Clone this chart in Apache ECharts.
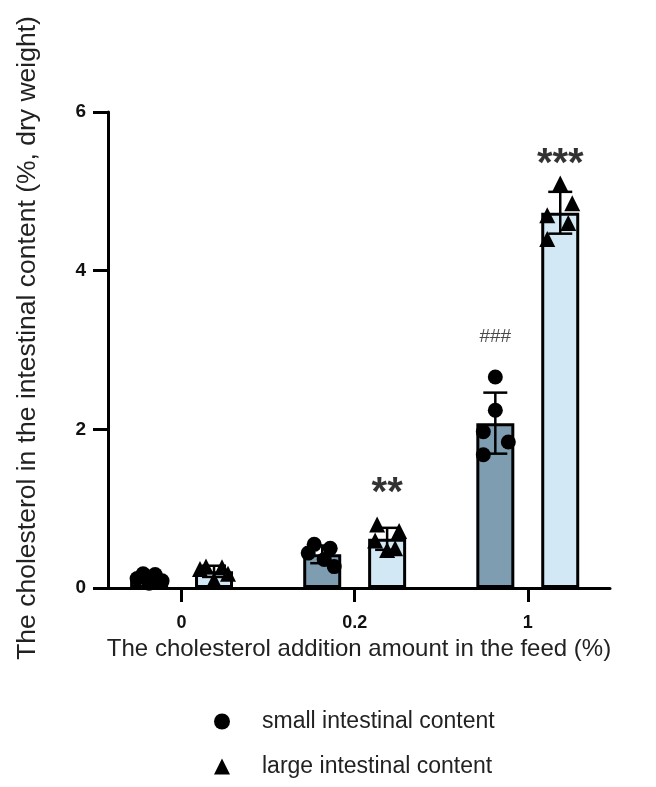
<!DOCTYPE html>
<html>
<head>
<meta charset="utf-8">
<script src="https://cdn.jsdelivr.net/npm/echarts@6/dist/echarts.min.js"></script>
<style>
  html, body { margin: 0; padding: 0; background: #fff; }
  #chart { width: 656px; height: 787px; }
</style>
</head>
<body>
<div id="chart"></div>
<script>
// ---- data ----
const categories = ['0', '0.2', '1'];
const seriesNames = ['small intestinal content', 'large intestinal content'];
const smallValues = [
  [0.18, 0.17, 0.12, 0.09, 0.06],
  [0.55, 0.50, 0.44, 0.36, 0.27],
  [2.66, 2.24, 1.97, 1.84, 1.68]
];
const largeValues = [
  [0.27, 0.26, 0.24, 0.18, 0.10],
  [0.80, 0.72, 0.60, 0.50, 0.48],
  [5.10, 4.85, 4.70, 4.60, 4.40]
];
const smallSig = ['', '', '###'];
const largeSig = ['', '**', '***'];
const yTicks = [0, 2, 4, 6];

// ---- styling (not data) ----
const smallJitter = [[-6, 6, -12, 13, 0], [-8, 8, -14, 2, 12], [0, 0, -12, 13, -12]];
const largeJitter = [[-8, 8, -14, 14, 0], [-10, 12, -12, 8, 0], [0, 12, -13, 8, -13]];
const groupShift = 0.1875;
const sigOffset = { '###': -40, '**': -31, '***': -18 };

function mean(a) { return a.reduce((s, v) => s + v, 0) / a.length; }
function sd(a) { const m = mean(a); return Math.sqrt(a.reduce((s, v) => s + (v - m) * (v - m), 0) / (a.length - 1)); }

function barData(vals, shift) { return vals.map((g, i) => [i + shift, mean(g)]); }
function errData(vals, shift) { return vals.map((g, i) => [i + shift, mean(g), sd(g)]); }
function pointData(vals, jit, shift) {
  const out = [];
  vals.forEach((g, i) => g.forEach((v, k) => out.push({ value: [i + shift, v], symbolOffset: [jit[i][k], 0] })));
  return out;
}
function sigData(vals, sig, shift) {
  const out = [];
  vals.forEach((g, i) => {
    if (sig[i]) out.push({ value: [i + shift, Math.max.apply(null, g)], sig: sig[i],
      label: { offset: [0, sigOffset[sig[i]]] } });
  });
  return out;
}

const FONT = '"Liberation Sans", Arial, sans-serif';
const chart = echarts.init(document.getElementById('chart'), null, { renderer: 'canvas' });

const errSeries = (vals, shift) => ({
  type: 'custom',
  data: errData(vals, shift),
  z: 3,
  silent: true,
  renderItem: function (params, api) {
    const x = api.value(0), m = api.value(1), s = api.value(2);
    const top = api.coord([x, m + s]);
    const bot = api.coord([x, Math.max(0, m - s)]);
    const hw = 12;
    const st = { stroke: '#000', lineWidth: 2.5 };
    return {
      type: 'group',
      children: [
        { type: 'line', shape: { x1: top[0], y1: top[1], x2: bot[0], y2: bot[1] }, style: st },
        { type: 'line', shape: { x1: top[0] - hw, y1: top[1], x2: top[0] + hw, y2: top[1] }, style: st },
        { type: 'line', shape: { x1: bot[0] - hw, y1: bot[1], x2: bot[0] + hw, y2: bot[1] }, style: st }
      ]
    };
  }
});

const option = {
  backgroundColor: '#ffffff',
  animation: false,
  grid: { left: 108, right: 46, top: 112, bottom: 199, containLabel: false, outerBoundsMode: 'none' },
  legend: {
    data: seriesNames,
    orient: 'vertical',
    left: 209,
    top: 705,
    itemGap: 22,
    itemWidth: 16,
    itemHeight: 16,
    textStyle: { fontFamily: FONT, fontSize: 23, color: '#222', padding: [0, 0, 0, 27] }
  },
  xAxis: {
    type: 'value',
    min: -0.425,
    max: 2.475,
    name: 'The cholesterol addition amount in the feed (%)',
    nameLocation: 'middle',
    nameGap: 48,
    nameTextStyle: { fontFamily: FONT, fontSize: 24, color: '#222' },
    axisLine: { show: true, onZero: false, lineStyle: { color: '#000', width: 3 } },
    axisTick: { show: true, length: 14, lineStyle: { color: '#000', width: 3 }, customValues: [0, 1, 2] },
    axisLabel: {
      customValues: [0, 1, 2],
      formatter: v => categories[Math.round(v)],
      margin: 26, fontFamily: FONT, fontSize: 18, fontWeight: 'bold', color: '#111'
    },
    splitLine: { show: false }
  },
  yAxis: {
    type: 'value',
    min: 0,
    max: 6,
    interval: 2,
    name: 'The cholesterol in the intestinal content (%, dry weight)',
    nameLocation: 'middle',
    nameGap: 67,
    nameTextStyle: { fontFamily: FONT, fontSize: 26.5, color: '#222', padding: [0, 0, 0, 24] },
    axisLine: { show: true, onZero: false, lineStyle: { color: '#000', width: 3 } },
    axisTick: { show: true, length: 15, lineStyle: { color: '#000', width: 3 } },
    axisLabel: { margin: 22, fontFamily: FONT, fontSize: 19, fontWeight: 'bold', color: '#111',
      formatter: v => (yTicks.indexOf(v) >= 0 ? String(v) : '') },
    splitLine: { show: false }
  },
  series: [
    {
      name: 'small bar', type: 'bar', data: barData(smallValues, -groupShift),
      barWidth: 38, barGap: '-100%', z: 1, silent: true,
      itemStyle: { color: '#7f9db0', borderColor: '#000', borderWidth: 3 }
    },
    {
      name: 'large bar', type: 'bar', data: barData(largeValues, groupShift),
      barWidth: 38, barGap: '-100%', z: 1, silent: true,
      itemStyle: { color: '#d2e8f4', borderColor: '#000', borderWidth: 3 }
    },
    errSeries(smallValues, -groupShift),
    errSeries(largeValues, groupShift),
    {
      name: seriesNames[0], type: 'scatter', symbol: 'circle', symbolSize: 15, z: 4,
      data: pointData(smallValues, smallJitter, -groupShift),
      itemStyle: { color: '#000', opacity: 1 }
    },
    {
      name: seriesNames[1], type: 'scatter', symbol: 'triangle', symbolSize: 16, z: 4,
      data: pointData(largeValues, largeJitter, groupShift),
      itemStyle: { color: '#000', opacity: 1 }
    },
    {
      name: 'sig small', type: 'scatter', symbolSize: 1, z: 5, silent: true,
      itemStyle: { color: 'rgba(0,0,0,0)' },
      data: sigData(smallValues, smallSig, -groupShift),
      label: { show: true, position: 'inside', formatter: p => p.data.sig,
        fontFamily: FONT, fontSize: 19, color: '#1a1a1a' }
    },
    {
      name: 'sig large', type: 'scatter', symbolSize: 1, z: 5, silent: true,
      itemStyle: { color: 'rgba(0,0,0,0)' },
      data: sigData(largeValues, largeSig, groupShift),
      label: { show: true, position: 'inside', formatter: p => p.data.sig,
        fontFamily: FONT, fontSize: 40, fontWeight: 'bold', color: '#000' }
    }
  ]
};
chart.setOption(option);
</script>
</body>
</html>
